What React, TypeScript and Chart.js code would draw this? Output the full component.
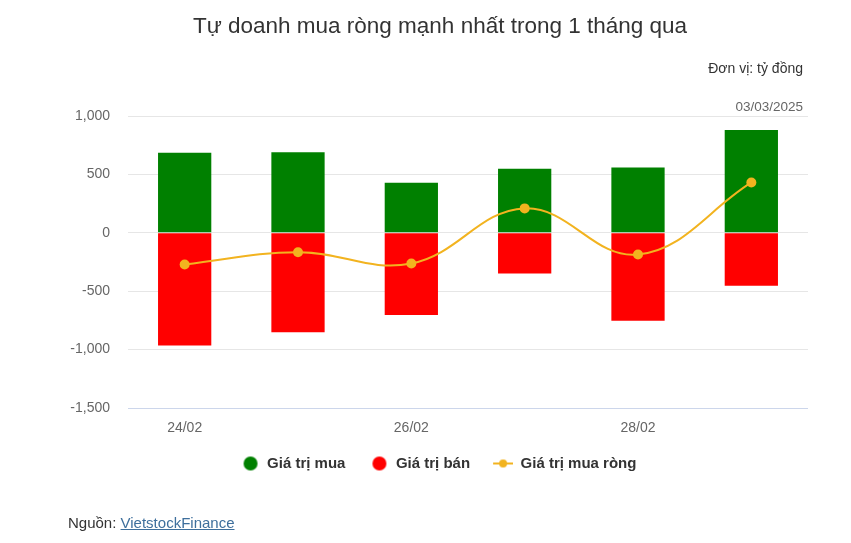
import { useRef, useEffect } from "react";
import { Chart, registerables } from "chart.js";
Chart.register(...registerables);

const dates = ["24/02", "25/02", "26/02", "27/02", "28/02", "03/03"];
const buyValues = [686, 689, 429, 549, 560, 880];
const sellValues = [-965, -851, -703, -349, -754, -454];
const netValues = [-271, -166, -263, 209, -186, 431];
const latestDate = "03/03/2025";

const FONT = "'Liberation Sans', Arial, sans-serif";
const GREEN = "#008000";
const RED = "#ff0000";
const GOLD = "#f2b31f";

// small canvases used as legend symbols (22px wide box, drawn centred by chart.js)
const makeDot = (color: string) => {
    const c = document.createElement("canvas");
    c.width = 22;
    c.height = 16;
    const ctx = c.getContext("2d")!;
    ctx.fillStyle = color;
    ctx.beginPath();
    ctx.arc(13, 8, 7, 0, Math.PI * 2);
    ctx.fill();
    return c;
};

const makeLineDot = (color: string) => {
    const c = document.createElement("canvas");
    c.width = 22;
    c.height = 16;
    const ctx = c.getContext("2d")!;
    ctx.strokeStyle = color;
    ctx.lineWidth = 2;
    ctx.beginPath();
    ctx.moveTo(2, 8);
    ctx.lineTo(22, 8);
    ctx.stroke();
    ctx.fillStyle = color;
    ctx.beginPath();
    ctx.arc(12, 8, 4, 0, Math.PI * 2);
    ctx.fill();
    return c;
};

const App = () => {
    const chartContainer = useRef<HTMLCanvasElement>(null);

    useEffect(() => {
        if (!chartContainer.current) return;
        const symbols = [makeDot(GREEN), makeDot(RED), makeLineDot(GOLD)];

        const chart = new Chart(chartContainer.current, {
            type: "bar",
            data: {
                labels: dates,
                datasets: [
                    {
                        type: "bar",
                        label: "Giá trị mua",
                        data: buyValues,
                        backgroundColor: GREEN,
                        grouped: false,
                        barPercentage: 0.47,
                        categoryPercentage: 1,
                        order: 1,
                    },
                    {
                        type: "bar",
                        label: "Giá trị bán",
                        data: sellValues,
                        backgroundColor: RED,
                        grouped: false,
                        barPercentage: 0.47,
                        categoryPercentage: 1,
                        order: 1,
                    },
                    {
                        type: "line",
                        label: "Giá trị mua ròng",
                        data: netValues,
                        borderColor: GOLD,
                        backgroundColor: GOLD,
                        borderWidth: 2,
                        tension: 0.4,
                        pointRadius: 5,
                        pointBackgroundColor: GOLD,
                        pointBorderWidth: 0,
                        fill: false,
                        order: 0,
                    },
                ],
            },
            options: {
                responsive: false,
                animation: false,
                locale: "en-US",
                layout: {
                    padding: { top: 116, left: 66, right: 43, bottom: 62 },
                },
                scales: {
                    x: {
                        grid: { display: false, drawTicks: false },
                        border: { display: false },
                        ticks: {
                            padding: 12,
                            color: "#666",
                            font: { family: FONT, size: 14 },
                            maxRotation: 0,
                            autoSkip: false,
                            callback: (_v, i) => (i % 2 === 0 ? dates[i] : ""),
                        },
                        afterFit: (scale) => {
                            scale.height = 27;
                        },
                    },
                    y: {
                        min: -1500,
                        max: 1000,
                        ticks: {
                            stepSize: 500,
                            padding: 18,
                            color: "#666",
                            font: { family: FONT, size: 14 },
                        },
                        grid: {
                            drawTicks: false,
                            color: (ctx) =>
                                ctx.tick && ctx.tick.value === -1500 ? "#ccd6eb" : "#e6e6e6",
                        },
                        border: { display: false },
                        afterFit: (scale) => {
                            scale.width = 62;
                        },
                    },
                },
                plugins: {
                    tooltip: { enabled: false },
                    legend: {
                        position: "bottom",
                        labels: {
                            usePointStyle: true,
                            pointStyleWidth: 22,
                            padding: 21,
                            color: "#333",
                            font: { family: FONT, size: 15, weight: "bold" },
                            sort: (a, b) => (a.datasetIndex ?? 0) - (b.datasetIndex ?? 0),
                            generateLabels: (c) => {
                                const items = Chart.defaults.plugins.legend.labels.generateLabels(c);
                                items.forEach((it) => {
                                    it.pointStyle = symbols[it.datasetIndex ?? 0];
                                });
                                return items;
                            },
                        },
                    },
                },
            },
            plugins: [
                {
                    id: "headerText",
                    afterDraw: (c) => {
                        const ctx = c.ctx;
                        const { right } = c.chartArea;
                        ctx.save();
                        ctx.fillStyle = "#333";
                        ctx.textBaseline = "middle";
                        ctx.font = `22.5px ${FONT}`;
                        ctx.textAlign = "center";
                        ctx.fillText("Tự doanh mua ròng mạnh nhất trong 1 tháng qua", 440, 27);
                        ctx.font = `14px ${FONT}`;
                        ctx.textAlign = "right";
                        ctx.fillText("Đơn vị: tỷ đồng", right - 5, 69);
                        ctx.fillStyle = "#666";
                        ctx.font = `13.5px ${FONT}`;
                        ctx.fillText(latestDate, right - 5, 107);
                        ctx.restore();
                    },
                },
            ],
        });

        return () => {
            chart.destroy();
        };
    }, []);

    return (
        <div style={{ position: "absolute", left: 0, top: 0, width: 851, height: 543, background: "#fff" }}>
            <canvas ref={chartContainer} width={851} height={543} />
            <div
                style={{
                    position: "absolute",
                    left: 68,
                    top: 514,
                    fontFamily: FONT,
                    fontSize: 15,
                    color: "#333",
                }}
            >
                Nguồn:{" "}
                <a href="#" style={{ color: "#3e6f9c", textDecoration: "underline" }}>
                    VietstockFinance
                </a>
            </div>
        </div>
    );
};

export default App;
